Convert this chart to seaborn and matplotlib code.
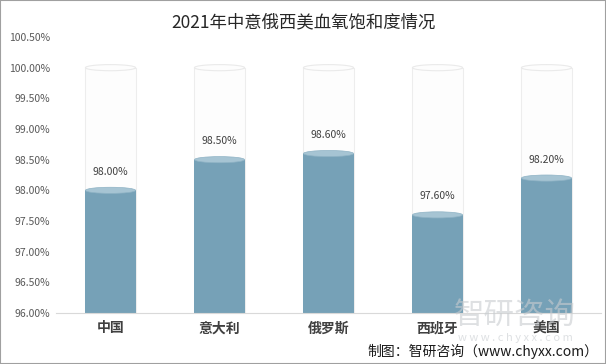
import matplotlib
matplotlib.use("Agg")
import matplotlib.pyplot as plt
import seaborn as sns
import pandas as pd
from matplotlib.patches import Ellipse, Rectangle

categories = ["中国", "意大利", "俄罗斯", "西班牙", "美国"]
values = [98.00, 98.50, 98.60, 97.60, 98.20]
labels = ["98.00%", "98.50%", "98.60%", "97.60%", "98.20%"]
full = [100.0] * 5
yticks = [96.0, 96.5, 97.0, 97.5, 98.0, 98.5, 99.0, 99.5, 100.0, 100.5]

sns.set_style("white")
plt.rcParams['font.family'] = ['Noto Sans CJK SC', 'DejaVu Sans']

df = pd.DataFrame({"cat": categories, "val": values, "full": full})

fig = plt.figure(figsize=(6.06, 3.64), dpi=100)
ax = fig.add_axes([56/606, 1 - 313/364, 545/606, (313 - 37)/364])

W = 0.46
sns.barplot(data=df, x="cat", y="full", ax=ax, color="#fdfdfd", width=W,
            edgecolor="#ededed", linewidth=0.8, zorder=1)
sns.barplot(data=df, x="cat", y="val", ax=ax, color="#76a1b7", width=W,
            edgecolor="none", zorder=2, saturation=1)

ax.set_ylim(96.0, 100.5)
ax.set_xlim(-0.5, 4.5)
eh = 0.1
patches = list(ax.patches)
bg = patches[:5]
fg = patches[5:]
for p in bg:
    cx = p.get_x() + p.get_width() / 2
    top = p.get_y() + p.get_height()
    ax.add_patch(Ellipse((cx, top), p.get_width(), eh, facecolor="#fdfdfd",
                         edgecolor="#eaeaea", linewidth=0.8, zorder=1.5))
for p, lab in zip(fg, labels):
    cx = p.get_x() + p.get_width() / 2
    top = p.get_y() + p.get_height()
    ax.add_patch(Ellipse((cx, top), p.get_width(), eh, facecolor="#a6c4d3",
                         edgecolor="#8fb3c5", linewidth=0.5, zorder=3))
    ax.add_patch(Ellipse((cx, 96.0 + 0.02), p.get_width(), eh * 0.6,
                         facecolor="#76a1b7", edgecolor="none", zorder=2))
    ax.text(cx, top + 0.3, lab, ha="center", va="center", fontsize=7.5,
            color="#404040", zorder=4)

ax.set_yticks(yticks)
ax.set_yticklabels([f"{t:.2f}%" for t in yticks], fontsize=7.5, color="#595959")
ax.set_xticks(range(len(categories)))
ax.set_xticklabels(categories, fontsize=10, fontweight="bold", color="#404040")
ax.tick_params(axis="both", length=0, pad=4)
ax.tick_params(axis="x", pad=6)
ax.set_xlabel("")
ax.set_ylabel("")
for s in ["top", "right", "left"]:
    ax.spines[s].set_visible(False)
ax.spines["bottom"].set_color("#d9d9d9")
ax.spines["bottom"].set_linewidth(0.8)

fig.text(0.5, 1 - 22/364, "2021年中意俄西美血氧饱和度情况", ha="center", va="center",
         fontsize=12.5, color="#262626")

# watermark
fig.text(515/606, 1 - 315/364, "智研咨询", ha="center", va="center",
         fontsize=22, color="#c8ccd0", alpha=0.6, zorder=0)
fig.text(515/606, 1 - 338/364, "w w w . c h y x x . c o m", ha="center", va="center",
         fontsize=8, color="#c8ccd0", alpha=0.6, zorder=0)

fig.text(598/606, 1 - 351/364, "制图：智研咨询（www.chyxx.com）", ha="right", va="center",
         fontsize=10, color="#1a1a1a")

fig.patches.append(Rectangle((0, 0), 1, 1, transform=fig.transFigure, fill=False,
                             edgecolor="#a0a0a0", linewidth=1.5))

fig.savefig("out.png", dpi=100)
